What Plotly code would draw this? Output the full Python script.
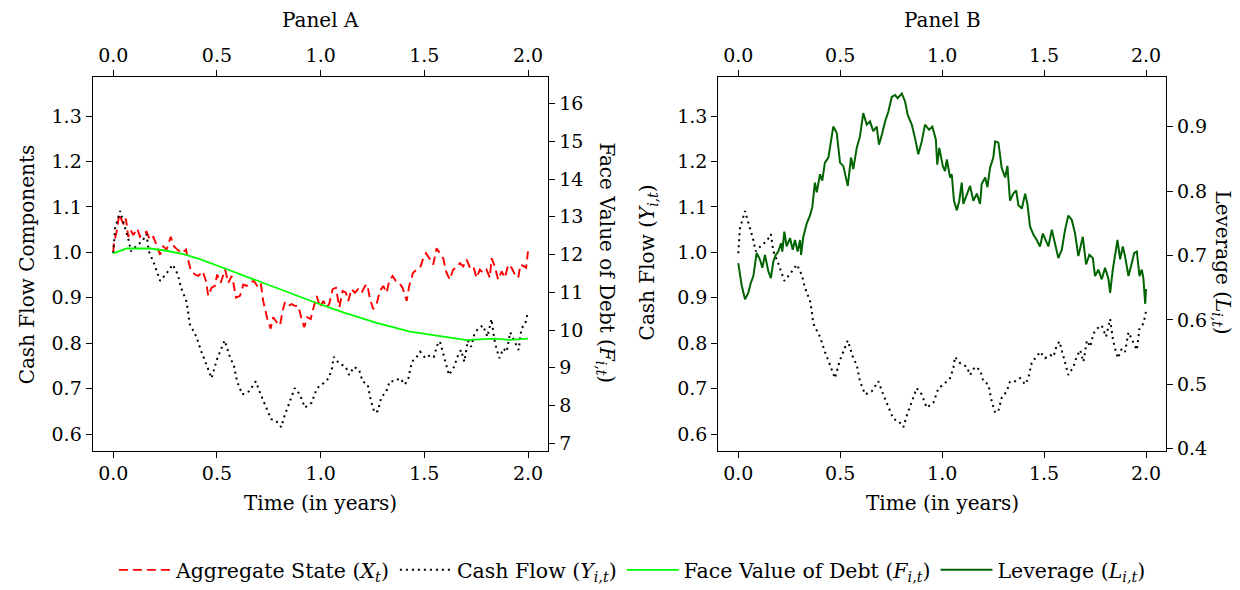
import plotly.graph_objects as go

# ---------------- data ----------------
Y_t = [0.000,0.008,0.033,0.057,0.074,0.085,0.115,0.139,0.160,0.172,0.196,0.226,0.254,0.287,0.311,0.327,0.352,0.360,0.368,0.401,
       0.425,0.450,0.474,0.499,0.537,0.564,0.581,0.597,0.622,0.655,0.687,0.711,0.736,0.761,0.785,0.810,0.826,0.851,0.875,0.900,
       0.924,0.957,0.981,1.014,1.039,1.055,1.063,1.088,1.104,1.121,1.137,1.161,1.186,1.202,1.227,1.243,1.260,1.276,1.292,1.317,
       1.333,1.358,1.382,1.407,1.423,1.440,1.464,1.480,1.505,1.530,1.546,1.562,1.575,1.587,1.603,1.619,1.644,1.660,1.677,1.693,
       1.710,1.726,1.742,1.759,1.783,1.804,1.824,1.837,1.848,1.862,1.881,1.897,1.914,1.930,1.955,1.968,1.987,2.000]
Y_val = [0.998,1.052,1.091,1.052,1.027,1.002,1.016,1.024,1.040,1.002,0.976,0.937,0.952,0.973,0.951,0.922,0.893,0.872,0.843,0.814,
         0.781,0.752,0.723,0.763,0.806,0.767,0.752,0.716,0.687,0.694,0.716,0.687,0.658,0.633,0.629,0.615,0.640,0.672,0.701,0.687,
         0.658,0.669,0.700,0.712,0.723,0.745,0.770,0.756,0.752,0.748,0.730,0.748,0.741,0.716,0.709,0.672,0.647,0.651,0.680,0.694,
         0.716,0.716,0.723,0.709,0.723,0.759,0.770,0.781,0.767,0.774,0.770,0.795,0.804,0.785,0.756,0.730,0.748,0.770,0.785,0.759,
         0.806,0.792,0.821,0.832,0.839,0.814,0.853,0.810,0.788,0.767,0.788,0.781,0.824,0.810,0.785,0.832,0.843,0.870]

X_t = [0.000,0.003,0.016,0.029,0.040,0.052,0.061,0.072,0.084,0.096,0.116,0.129,0.145,0.161,0.177,0.193,0.209,0.225,0.241,0.257,
       0.277,0.293,0.309,0.330,0.351,0.357,0.373,0.394,0.410,0.431,0.447,0.458,0.474,0.490,0.501,0.518,0.539,0.555,0.571,0.579,
       0.592,0.611,0.627,0.643,0.659,0.678,0.694,0.711,0.723,0.728,0.743,0.759,0.771,0.788,0.804,0.817,0.828,0.844,0.860,0.876,
       0.892,0.908,0.921,0.935,0.952,0.964,0.981,0.997,1.013,1.029,1.041,1.058,1.074,1.090,1.106,1.122,1.133,1.149,1.165,1.181,
       1.198,1.214,1.225,1.238,1.254,1.270,1.286,1.302,1.318,1.331,1.347,1.363,1.379,1.395,1.415,1.427,1.446,1.463,1.482,1.495,
       1.508,1.524,1.543,1.559,1.575,1.591,1.607,1.623,1.639,1.656,1.672,1.688,1.704,1.720,1.736,1.752,1.768,1.784,1.800,1.816,
       1.824,1.840,1.856,1.873,1.889,1.905,1.921,1.937,1.953,1.964,1.981,1.991,2.000]
X_val = [1.000,1.020,1.045,1.085,1.071,1.060,1.074,1.034,1.049,1.038,1.052,1.034,1.042,1.045,1.027,1.034,1.016,0.995,1.013,1.006,
         1.034,1.013,1.006,0.998,1.006,0.991,0.962,0.951,0.948,0.958,0.937,0.904,0.922,0.926,0.951,0.933,0.962,0.933,0.948,0.933,
         0.900,0.904,0.929,0.926,0.933,0.937,0.926,0.933,0.893,0.882,0.853,0.832,0.857,0.846,0.839,0.872,0.890,0.882,0.886,0.882,
         0.882,0.853,0.835,0.857,0.853,0.875,0.904,0.879,0.893,0.879,0.886,0.919,0.922,0.879,0.915,0.911,0.893,0.919,0.911,0.919,
         0.911,0.926,0.929,0.897,0.875,0.886,0.915,0.926,0.911,0.937,0.948,0.937,0.933,0.922,0.893,0.926,0.955,0.962,0.969,0.987,
         0.998,0.987,0.973,1.009,0.998,0.987,0.955,0.940,0.962,0.966,0.976,0.969,0.984,0.966,0.969,0.944,0.962,0.955,0.962,0.944,
         0.987,0.969,0.940,0.958,0.944,0.973,0.966,0.951,0.944,0.973,0.969,0.966,1.002]

F_t = [0.000,0.065,0.177,0.257,0.338,0.418,0.539,0.659,0.780,0.900,0.948,0.993,1.109,1.270,1.431,1.591,1.704,1.832,1.913,2.000]
F_val = [12.03,12.16,12.16,12.10,12.01,11.88,11.63,11.38,11.13,10.88,10.78,10.69,10.47,10.19,9.96,9.83,9.73,9.77,9.74,9.77]

L_t = [0.000,0.017,0.033,0.049,0.062,0.074,0.090,0.106,0.118,0.131,0.147,0.160,0.172,0.184,0.196,0.210,0.216,0.226,0.237,0.254,
       0.267,0.278,0.291,0.303,0.308,0.319,0.336,0.352,0.363,0.368,0.376,0.385,0.401,0.412,0.425,0.442,0.455,0.466,0.483,0.499,
       0.515,0.537,0.553,0.564,0.581,0.597,0.613,0.630,0.646,0.662,0.679,0.690,0.704,0.720,0.736,0.753,0.769,0.782,0.802,0.818,
       0.831,0.851,0.867,0.883,0.900,0.916,0.936,0.952,0.969,0.976,0.986,1.003,1.014,1.023,1.039,1.047,1.058,1.072,1.084,1.096,
       1.104,1.121,1.137,1.153,1.170,1.186,1.194,1.211,1.222,1.235,1.251,1.260,1.276,1.292,1.309,1.320,1.333,1.349,1.363,1.374,
       1.391,1.407,1.418,1.431,1.448,1.464,1.480,1.494,1.510,1.521,1.538,1.554,1.570,1.587,1.603,1.619,1.636,1.652,1.668,1.690,
       1.706,1.722,1.739,1.750,1.766,1.783,1.799,1.816,1.824,1.837,1.848,1.860,1.873,1.886,1.897,1.914,1.930,1.942,1.955,1.968,
       1.979,1.987,1.996,2.000]
L_val = [0.688,0.653,0.632,0.642,0.658,0.668,0.704,0.694,0.681,0.701,0.676,0.665,0.691,0.701,0.706,0.719,0.706,0.737,0.714,0.727,
         0.709,0.724,0.706,0.724,0.701,0.729,0.750,0.762,0.775,0.790,0.813,0.798,0.826,0.816,0.844,0.852,0.877,0.900,0.890,0.844,
         0.839,0.808,0.852,0.834,0.867,0.885,0.921,0.903,0.908,0.893,0.900,0.872,0.887,0.908,0.923,0.946,0.949,0.944,0.951,0.939,
         0.918,0.903,0.882,0.857,0.877,0.903,0.895,0.900,0.880,0.841,0.867,0.839,0.831,0.849,0.821,0.826,0.785,0.770,0.785,0.813,
         0.780,0.793,0.808,0.785,0.796,0.780,0.811,0.821,0.806,0.836,0.852,0.877,0.875,0.836,0.821,0.839,0.785,0.796,0.801,0.778,
         0.773,0.796,0.780,0.745,0.732,0.724,0.714,0.734,0.722,0.714,0.740,0.719,0.696,0.709,0.740,0.762,0.755,0.734,0.699,0.729,
         0.686,0.701,0.696,0.668,0.678,0.663,0.681,0.663,0.642,0.678,0.699,0.724,0.694,0.714,0.699,0.668,0.688,0.704,0.706,0.668,
         0.678,0.665,0.625,0.648]

x_ticks = [0.0, 0.5, 1.0, 1.5, 2.0]
left_ticks = [0.6, 0.7, 0.8, 0.9, 1.0, 1.1, 1.2, 1.3]
rightA_ticks = [7, 8, 9, 10, 11, 12, 13, 14, 15, 16]
rightB_ticks = [0.4, 0.5, 0.6, 0.7, 0.8, 0.9]

# ---------------- figure ----------------
W, H = 1240, 590
FONT = "DejaVu Serif"
TICKF = dict(family=FONT, size=19, color="black")

def px(x):
    return x / W

def py(y):
    return 1 - y / H

fig = go.Figure()

# Panel A
fig.add_trace(go.Scatter(x=X_t, y=X_val, mode="lines", xaxis="x", yaxis="y",
                         line=dict(color="#ff0000", width=1.9, dash="9px,5px"),
                         name="Aggregate State (<i>X<sub>t</sub></i>)"))
fig.add_trace(go.Scatter(x=Y_t, y=Y_val, mode="lines", xaxis="x", yaxis="y",
                         line=dict(color="black", width=2, dash="2px,4px"),
                         name="Cash Flow (<i>Y<sub>i,t</sub></i>)"))
fig.add_trace(go.Scatter(x=F_t, y=F_val, mode="lines", xaxis="x", yaxis="y2",
                         line=dict(color="#00ff00", width=1.8),
                         name="Face Value of Debt (<i>F<sub>i,t</sub></i>)"))
# Panel B
fig.add_trace(go.Scatter(x=Y_t, y=Y_val, mode="lines", xaxis="x2", yaxis="y3",
                         line=dict(color="black", width=2, dash="2px,4px"),
                         showlegend=False, name="Cash Flow"))
fig.add_trace(go.Scatter(x=L_t, y=L_val, mode="lines", xaxis="x2", yaxis="y4",
                         line=dict(color="#006400", width=2),
                         name="Leverage (<i>L<sub>i,t</sub></i>)"))
# empty traces so the top axes get drawn
fig.add_trace(go.Scatter(x=[None], y=[None], xaxis="x3", yaxis="y", showlegend=False, hoverinfo="skip"))
fig.add_trace(go.Scatter(x=[None], y=[None], xaxis="x4", yaxis="y3", showlegend=False, hoverinfo="skip"))

domA = [px(92.7), px(548.3)]
domB = [px(718.3), px(1166)]
domY = [py(456.7), py(78)]
xrA = [-0.0993, 2.0979]
xrB = [-0.098, 2.098]
yl = [0.5637, 1.386]

axcommon = dict(showline=True, linecolor="black", linewidth=1.3, ticks="outside",
                ticklen=6, tickwidth=1.2, tickcolor="black", showgrid=False,
                zeroline=False, tickfont=TICKF, fixedrange=True)

fig.update_layout(
    width=W, height=H,
    margin=dict(l=0, r=0, t=0, b=0),
    paper_bgcolor="white", plot_bgcolor="white",
    font=dict(family=FONT, size=19, color="black"),
    xaxis=dict(domain=domA, anchor="y", range=xrA, tickvals=x_ticks, tickformat=".1f", **axcommon),
    xaxis3=dict(overlaying="x", anchor="y", side="top", range=xrA, tickvals=x_ticks, tickformat=".1f", **axcommon),
    yaxis=dict(domain=domY, anchor="x", range=yl, tickvals=left_ticks, tickformat=".1f", **axcommon),
    yaxis2=dict(overlaying="y", anchor="x", side="right", range=[6.807, 16.706], tickvals=rightA_ticks, **axcommon),
    xaxis2=dict(domain=domB, anchor="y3", range=xrB, tickvals=x_ticks, tickformat=".1f", **axcommon),
    xaxis4=dict(overlaying="x2", anchor="y3", side="top", range=xrB, tickvals=x_ticks, tickformat=".1f", **axcommon),
    yaxis3=dict(domain=domY, anchor="x2", range=yl, tickvals=left_ticks, tickformat=".1f", **axcommon),
    yaxis4=dict(overlaying="y3", anchor="x2", side="right", range=[0.3974, 0.977], tickvals=rightB_ticks,
                tickformat=".1f", **axcommon),
    legend=dict(orientation="h", x=0.51, xanchor="center", y=py(578), yanchor="middle",
                font=dict(family=FONT, size=20.5, color="black"), itemwidth=52,
                bgcolor="rgba(0,0,0,0)", tracegroupgap=0),
    showlegend=True,
)

TF = dict(family=FONT, size=20, color="black")
annots = [
    ("Panel A", 320.5, 20, 0),
    ("Panel B", 942, 20, 0),
    ("Time (in years)", 320.5, 510, 0),
    ("Time (in years)", 942, 510, 0),
    ("Cash Flow Components", 27, 268, -90),
    ("Face Value of Debt (<i>F<sub>i,t</sub></i>)", 606, 266, 90),
    ("Cash Flow (<i>Y<sub>i,t</sub></i>)", 648, 266, -90),
    ("Leverage (<i>L<sub>i,t</sub></i>)", 1222, 266, 90),
]
for txt, x, y, ang in annots:
    fig.add_annotation(text=txt, x=px(x), y=py(y), xref="paper", yref="paper",
                       xanchor="center", yanchor="middle", showarrow=False,
                       textangle=ang, font=TF)

fig.write_html("out.html")
